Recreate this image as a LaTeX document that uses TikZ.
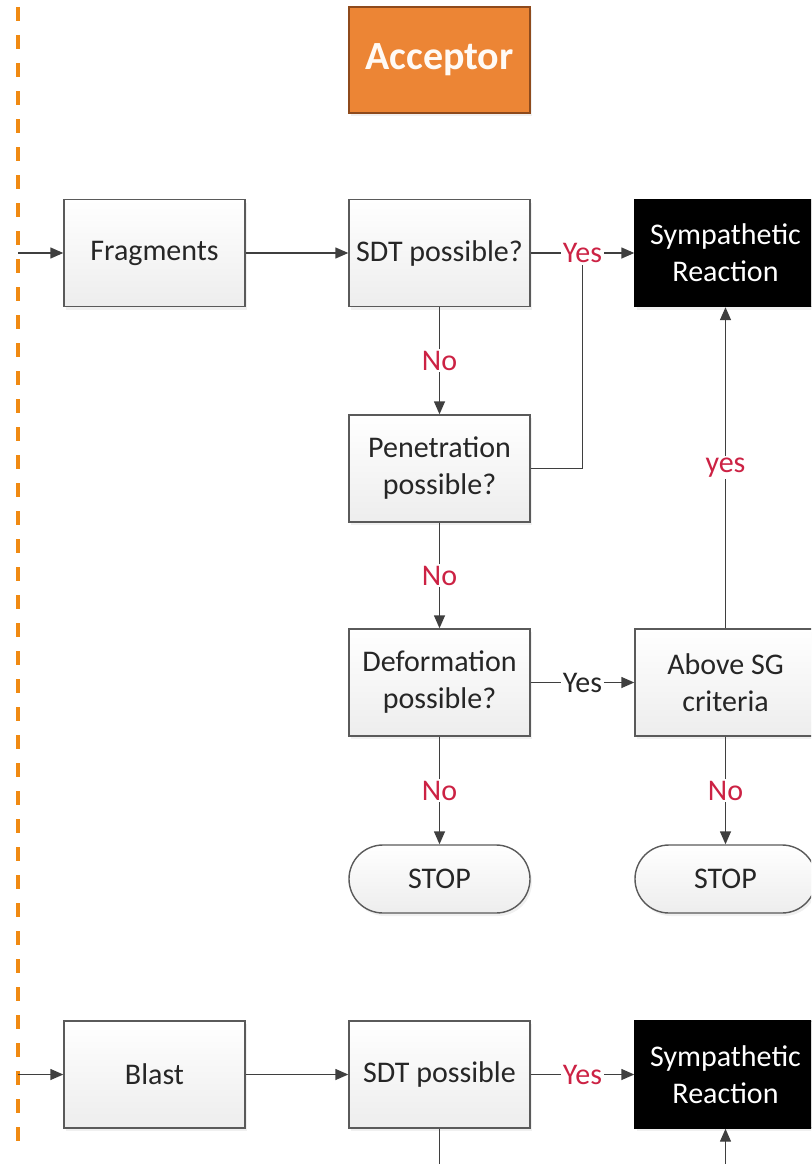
\documentclass[tikz,border=0pt]{standalone}
\usepackage{fontspec}
\setmainfont{Carlito}
\usetikzlibrary{arrows.meta,shadows}

\definecolor{linegray}{HTML}{3F3F3F}
\definecolor{boxborder}{HTML}{5A5A5A}
\definecolor{textdark}{HTML}{262626}
\definecolor{labred}{HTML}{CC2244}
\definecolor{accfill}{HTML}{EC8535}
\definecolor{accborder}{HTML}{8E4A1C}
\definecolor{dashorange}{HTML}{F08A12}

\begin{document}
\begin{tikzpicture}[x=1pt,y=-1pt,
  boxtext/.style={font=\fontsize{30}{37}\selectfont},
  boxbase/.style={boxtext, line width=1.4pt, minimum width=181pt,
    minimum height=107pt, inner sep=2pt, align=center,
    drop shadow={opacity=0.12, shadow xshift=2pt, shadow yshift=-3pt}},
  box/.style={boxbase, draw=boxborder, top color=white,
    bottom color=black!7, text=textdark},
  stopbox/.style={box, minimum height=68pt, rounded corners=34pt},
  blackbox/.style={boxbase, fill=black, draw=black, text=white},
  accbox/.style={draw=accborder, line width=1.4pt, fill=accfill,
    minimum width=181pt, minimum height=106pt, text=white!96!orange,
    font=\fontsize{40}{48}\selectfont\bfseries,
    drop shadow={opacity=0.12, shadow xshift=2pt, shadow yshift=-3pt}},
  lbl/.style={boxtext, fill=white, inner sep=2pt, text=labred},
  lblk/.style={lbl, text=textdark},
  conn/.style={draw=linegray, line width=1.4pt},
  arr/.style={conn, -{Triangle[length=13pt,width=11pt]}}]

\useasboundingbox (0,0) rectangle (811,1164);
\clip (0,0) rectangle (811,1164);

% divider on the left
\draw[dashorange, line width=3.5pt, dash pattern=on 14pt off 14pt, dash phase=21pt]
  (18,0) -- (18,1141);

% column heading
\node[accbox] (acc) at (439.5,60) {Acceptor};

% fragments branch
\node[box] (frag) at (154.5,253) {Fragments};
\node[box] (sdt1) at (439.5,253) {SDT possible?};
\node[blackbox] (sr1) at (725.5,253) {Sympathetic\\Reaction};
\node[box] (pen) at (439.5,468.5) {Penetration\\possible?};
\node[box] (def) at (439.5,682.5) {Deformation\\possible?};
\node[box] (sg) at (725.5,682.5) {Above SG\\criteria};
\node[stopbox] (stop1) at (439.5,879) {STOP};
\node[stopbox] (stop2) at (725.5,879) {STOP};

% blast branch
\node[box] (blast) at (154.5,1074.5) {Blast};
\node[box] (sdt2) at (439.5,1074.5) {SDT possible};
\node[blackbox] (sr2) at (725.5,1074.5) {Sympathetic\\Reaction};

\coordinate (in1) at (18,253);
\coordinate (in2) at (18,1074.5);
\coordinate (out2) at (439.5,1175);
\coordinate (up2) at (725.5,1175);

% connectors, fragments branch
\draw[arr] (in1) -- (frag);
\draw[arr] (frag) -- (sdt1);
\draw[arr] (sdt1) -- node[lbl] (y1) {Yes} (sr1);
\draw[arr] (sdt1) -- node[lbl] {No} (pen);
\draw[conn] (pen.east) -| (y1.south);
\draw[arr] (pen) -- node[lbl] {No} (def);
\draw[arr] (def) -- node[lblk] {Yes} (sg);
\draw[arr] (sg) -- node[lbl] {yes} (sr1);
\draw[arr] (def) -- node[lbl] {No} (stop1);
\draw[arr] (sg) -- node[lbl] {No} (stop2);

% connectors, blast branch
\draw[arr] (in2) -- (blast);
\draw[arr] (blast) -- (sdt2);
\draw[arr] (sdt2) -- node[lbl] {Yes} (sr2);
\draw[conn] (sdt2) -- (out2);
\draw[arr] (up2) -- (sr2);
\end{tikzpicture}
\end{document}
